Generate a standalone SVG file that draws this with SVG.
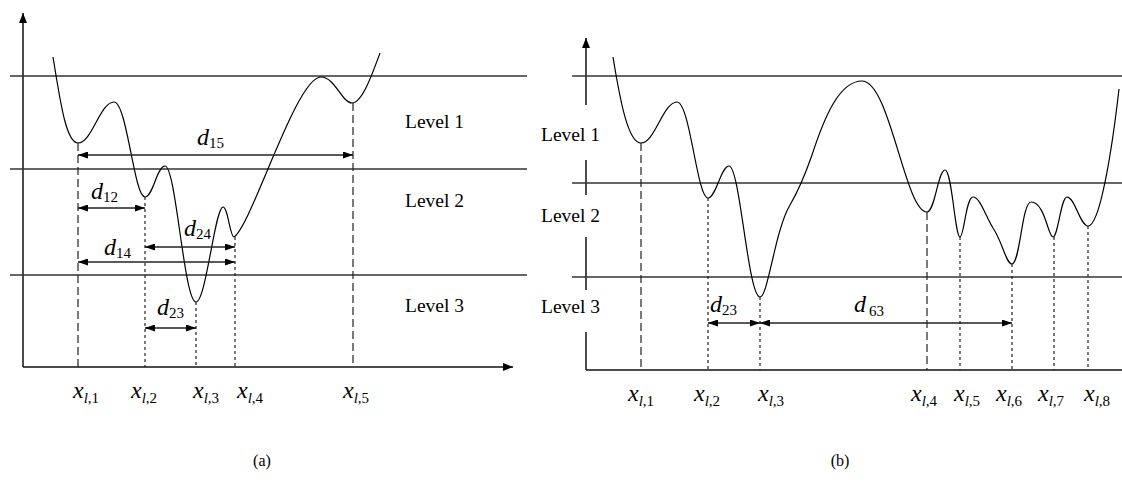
<svg xmlns="http://www.w3.org/2000/svg" width="1122" height="495" viewBox="0 0 1122 495">
<style>
.ax{stroke:#111;stroke-width:1.5;fill:none}
.lv{stroke:#333;stroke-width:1.3;fill:none}
.cv{stroke:#000;stroke-width:1.2;fill:none}
.dl{stroke:#222;stroke-width:1.2;stroke-dasharray:8 4;fill:none}
.ds{stroke:#222;stroke-width:1.2;stroke-dasharray:3 3;fill:none}
.ar{stroke:#222;stroke-width:1.3;fill:none;marker-start:url(#ah);marker-end:url(#ah)}
.lvl{font-family:"Liberation Serif",serif;font-size:19.5px;fill:#000}
.mt{font-family:"Liberation Serif",serif;font-size:24px;font-style:italic;fill:#000}
.sb{font-size:15px}
.up{font-style:normal}
.cap{font-family:"Liberation Serif",serif;font-size:16px;fill:#000;text-anchor:middle}
</style>
<defs>
<marker id="ah" viewBox="0 0 10 7" refX="10" refY="3.5" markerWidth="10" markerHeight="7" markerUnits="userSpaceOnUse" orient="auto-start-reverse"><path d="M0,0 L10,3.5 L0,7 z" fill="#000"/></marker>
<marker id="axh" viewBox="0 0 10 8" refX="10" refY="4" markerWidth="11" markerHeight="8" markerUnits="userSpaceOnUse" orient="auto"><path d="M0,0 L10,4 L0,8 z" fill="#000"/></marker>
</defs>

<g id="panel-a">
  <g id="a-axes">
    <line class="ax" x1="23" y1="367" x2="23" y2="13" marker-end="url(#axh)"/>
    <line class="ax" x1="23" y1="367" x2="513" y2="367" marker-end="url(#axh)"/>
  </g>
  <g id="a-levels">
    <line class="lv" x1="10" y1="76" x2="527" y2="76"/>
    <line class="lv" x1="10" y1="169" x2="527" y2="169"/>
    <line class="lv" x1="10" y1="275" x2="527" y2="275"/>
    <text class="lvl" x="405" y="128">Level 1</text>
    <text class="lvl" x="405" y="207">Level 2</text>
    <text class="lvl" x="405" y="312">Level 3</text>
  </g>
  <path id="a-curve" class="cv" d="M53,57 C60,100 66,143 78,143 C92,143 100,102 114,102 C127,102 134,197 145,197 C153,197 157,166 165,166 C176,166 184,302 196,302 C206,302 215,207 223,207 C228,207 230,237 234,237 C252,225 296,77 321,77 C335,77 342,103 352,103 C362,103 372,75 380,53"/>
  <g id="a-connectors">
    <line class="dl" x1="78" y1="143" x2="78" y2="367"/>
    <line class="ds" x1="145" y1="197" x2="145" y2="367"/>
    <line class="ds" x1="196" y1="302" x2="196" y2="367"/>
    <line class="ds" x1="235" y1="237" x2="235" y2="367"/>
    <line class="dl" x1="353" y1="103" x2="353" y2="367"/>
    <line class="ar" x1="78" y1="155" x2="353" y2="155"/>
    <line class="ar" x1="78" y1="208" x2="145" y2="208"/>
    <line class="ar" x1="145" y1="247" x2="235" y2="247"/>
    <line class="ar" x1="78" y1="262" x2="235" y2="262"/>
    <line class="ar" x1="145" y1="328" x2="196" y2="328"/>
  </g>
  <g id="a-dlabels">
    <text class="mt" x="197" y="145">d<tspan class="sb up" dy="3">15</tspan></text>
    <text class="mt" x="91" y="199">d<tspan class="sb up" dy="3">12</tspan></text>
    <text class="mt" x="184" y="236">d<tspan class="sb up" dy="3">24</tspan></text>
    <text class="mt" x="104" y="255">d<tspan class="sb up" dy="3">14</tspan></text>
    <text class="mt" x="157" y="315">d<tspan class="sb up" dy="3">23</tspan></text>
  </g>
  <g id="a-xlabels">
    <text class="mt" x="73" y="398">x<tspan class="sb" dy="5">l</tspan><tspan class="sb up">,1</tspan></text>
    <text class="mt" x="131" y="398">x<tspan class="sb" dy="5">l</tspan><tspan class="sb up">,2</tspan></text>
    <text class="mt" x="193" y="398">x<tspan class="sb" dy="5">l</tspan><tspan class="sb up">,3</tspan></text>
    <text class="mt" x="237" y="398">x<tspan class="sb" dy="5">l</tspan><tspan class="sb up">,4</tspan></text>
    <text class="mt" x="343" y="398">x<tspan class="sb" dy="5">l</tspan><tspan class="sb up">,5</tspan></text>
  </g>
  <text class="cap" x="262" y="466">(a)</text>
</g>

<g id="panel-b">
  <g id="b-axes">
    <line class="ax" x1="586" y1="105" x2="586" y2="38" marker-end="url(#axh)"/>
    <line class="ax" x1="586" y1="160" x2="586" y2="195"/>
    <line class="ax" x1="586" y1="237" x2="586" y2="290"/>
    <line class="ax" x1="586" y1="332" x2="586" y2="370"/>
    <line class="ax" x1="586" y1="370" x2="1122" y2="370"/>
  </g>
  <g id="b-levels">
    <line class="lv" x1="572" y1="76" x2="1122" y2="76"/>
    <line class="lv" x1="572" y1="183" x2="1122" y2="183"/>
    <line class="lv" x1="572" y1="277" x2="1122" y2="277"/>
    <text class="lvl" x="541" y="141">Level 1</text>
    <text class="lvl" x="541" y="222">Level 2</text>
    <text class="lvl" x="541" y="313">Level 3</text>
  </g>
  <path id="b-curve" class="cv" d="M613,57 C620,100 628,143 641,143 C655,143 663,102 677,102 C690,102 697,198 708,198 C716,198 721,166 729,166 C740,166 748,297 760,297 C768,297 775,230 790,205 C800,188 805,175 812,155 C825,115 840,81 862,81 C890,81 905,212 927,212 C935,212 938,170 945,170 C952,170 955,237 960,237 C964,237 966,197 973,197 C980,197 985,215 993,228 C1003,243 1006,264 1012,264 C1020,264 1022,202 1031,202 C1045,202 1048,237 1053,237 C1058,237 1061,197 1067,197 C1075,197 1080,226 1088,226 C1100,226 1112,150 1119,89"/>
  <g id="b-connectors">
    <line class="dl" x1="641" y1="143" x2="641" y2="370"/>
    <line class="ds" x1="708" y1="198" x2="708" y2="370"/>
    <line class="ds" x1="760" y1="297" x2="760" y2="370"/>
    <line class="dl" x1="927" y1="212" x2="927" y2="370"/>
    <line class="ds" x1="960" y1="237" x2="960" y2="370"/>
    <line class="ds" x1="1012" y1="264" x2="1012" y2="370"/>
    <line class="ds" x1="1054" y1="237" x2="1054" y2="370"/>
    <line class="ds" x1="1088" y1="226" x2="1088" y2="370"/>
    <line class="ar" x1="708" y1="323" x2="760" y2="323"/>
    <line class="ar" x1="760" y1="323" x2="1012" y2="323"/>
  </g>
  <g id="b-dlabels">
    <text class="mt" x="710" y="312">d<tspan class="sb up" dy="3">23</tspan></text>
    <text class="mt" x="854" y="312">d<tspan class="sb up" dx="3" dy="4">63</tspan></text>
  </g>
  <g id="b-xlabels">
    <text class="mt" x="628" y="401">x<tspan class="sb" dy="5">l</tspan><tspan class="sb up">,1</tspan></text>
    <text class="mt" x="694" y="401">x<tspan class="sb" dy="5">l</tspan><tspan class="sb up">,2</tspan></text>
    <text class="mt" x="758" y="401">x<tspan class="sb" dy="5">l</tspan><tspan class="sb up">,3</tspan></text>
    <text class="mt" x="911" y="401">x<tspan class="sb" dy="5">l</tspan><tspan class="sb up">,4</tspan></text>
    <text class="mt" x="954" y="401">x<tspan class="sb" dy="5">l</tspan><tspan class="sb up">,5</tspan></text>
    <text class="mt" x="996" y="401">x<tspan class="sb" dy="5">l</tspan><tspan class="sb up">,6</tspan></text>
    <text class="mt" x="1038" y="401">x<tspan class="sb" dy="5">l</tspan><tspan class="sb up">,7</tspan></text>
    <text class="mt" x="1084" y="401">x<tspan class="sb" dy="5">l</tspan><tspan class="sb up">,8</tspan></text>
  </g>
  <text class="cap" x="840" y="466">(b)</text>
</g>
</svg>
